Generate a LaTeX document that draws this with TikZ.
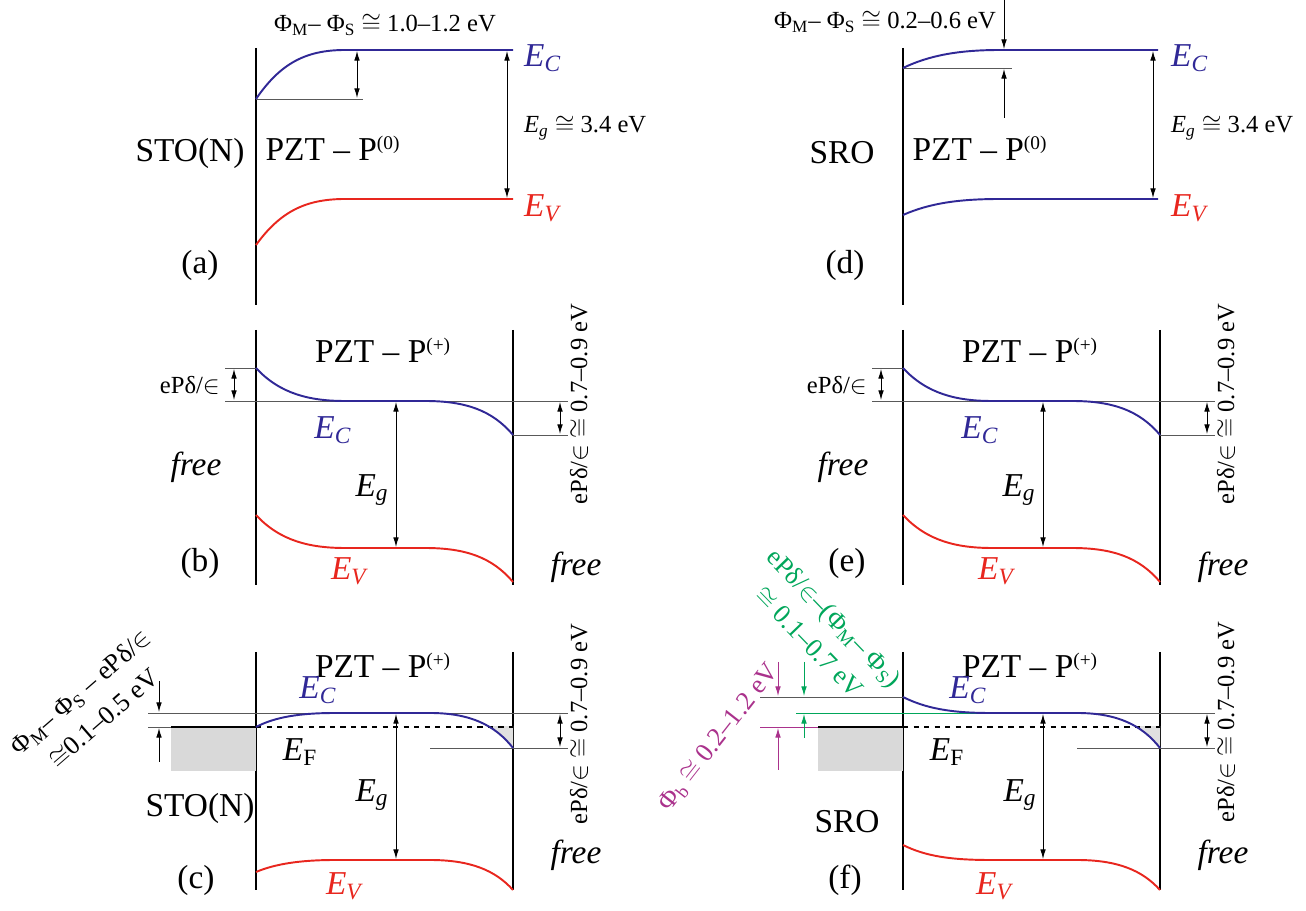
\documentclass[tikz,border=0pt]{standalone}
\usepackage{fontspec}
\setmainfont{Liberation Serif}
\usetikzlibrary{arrows.meta}
\definecolor{ecblue}{RGB}{48,40,150}
\definecolor{evred}{RGB}{232,38,30}
\definecolor{phigreen}{RGB}{0,166,90}
\definecolor{phimag}{RGB}{170,50,140}
\newcommand{\En}[1]{\textit{E}\textsubscript{\textit{#1}}}
\newcommand{\ePd}{ePδ/$\in$}
\newcommand{\Pol}[1]{PZT – P\textsuperscript{\fontsize{11}{11}\selectfont(#1)}}
\tikzset{
  axis/.style={line width=1.1pt},
  band/.style={line width=1.1pt},
  ref/.style={black!65, line width=0.5pt},
  dim/.style={<->, line width=0.5pt},
  big/.style={font=\fontsize{19}{22}\selectfont},
  small/.style={font=\fontsize{14}{16}\selectfont},
  mid/.style={font=\fontsize{15}{20}\selectfont},
}
\begin{document}
\begin{tikzpicture}[x=0.02cm, y=-0.02cm, >={Latex[length=5.5pt,width=3.2pt]}]
\useasboundingbox (0,0) rectangle (1306,911);

% (a) STO(N) contact, no polarisation
\draw[axis] (256,48) -- (256,305);
\draw[ref] (256,99) -- (363,99);
\draw[band, ecblue] (256,99) .. controls (280,64) and (305,50) .. (345,50) -- (513,50);
\draw[band, evred] (256,245) .. controls (280,212) and (305,199) .. (345,199) -- (513,199);
\draw[dim] (357,51) -- (357,98);
\draw[dim] (507,51) -- (507,198);
\node[small] (phiA) at (385,25) {Φ\textsubscript{M}– Φ\textsubscript{S} $\cong$ 1.0–1.2 eV};
\node[big, ecblue, anchor=west] (ecA) at (518,58) {\En{C}};
\node[big, evred, anchor=west] (evA) at (518,208) {\En{V}};
\node[small, anchor=west] (egA) at (518,128) {\En{g} $\cong$ 3.4 eV};
\node[big] (stoA) at (190,153) {STO(N)};
\node[big] (pztA) at (333,148) {\Pol{0}};
\node[big] (labA) at (200,265) {(a)};

% (d) SRO contact, no polarisation
\draw[axis] (903,48) -- (903,305);
\draw[ref] (903,68) -- (1012,68);
\draw[band, ecblue] (903,68) .. controls (930,55) and (960,50) .. (1000,50) -- (1158,50);
\draw[band, ecblue] (903,215) .. controls (930,203) and (960,199) .. (1000,199) -- (1158,199);
\draw[->, line width=0.5pt] (1004,0) -- (1004,49);
\draw[->, line width=0.5pt] (1004,118) -- (1004,69);
\draw[dim] (1153,51) -- (1153,198);
\node[small, anchor=east, inner sep=1pt] (phiD) at (998,22) {Φ\textsubscript{M}– Φ\textsubscript{S} $\cong$ 0.2–0.6 eV};
\node[big, ecblue, anchor=west] (ecD) at (1165,58) {\En{C}};
\node[big, evred, anchor=west] (evD) at (1165,208) {\En{V}};
\node[small, anchor=west] (egD) at (1165,128) {\En{g} $\cong$ 3.4 eV};
\node[big] (sroD) at (842,153) {SRO};
\node[big] (pztD) at (980,148) {\Pol{0}};
\node[big] (labD) at (845,265) {(d)};

% (b) and (e) free surfaces, P(+)
\foreach \dx/\lab in {0/b, 647/e} {
\begin{scope}[shift={(\dx,0)}]
\draw[axis] (256,330) -- (256,585);
\draw[axis] (513,330) -- (513,585);
\draw[ref] (225,368) -- (256,368);
\draw[ref] (225,401) -- (568,401);
\draw[ref] (513,435) -- (568,435);
\draw[band, ecblue] (256,368) .. controls (280,394) and (310,401) .. (345,401) -- (425,401) .. controls (465,401) and (492,410) .. (513,435);
\draw[band, evred] (256,515) .. controls (280,541) and (310,548) .. (345,548) -- (425,548) .. controls (465,548) and (492,557) .. (513,582);
\draw[dim] (234,369) -- (234,400);
\draw[dim] (560,402) -- (560,434);
\draw[dim] (396,402) -- (396,547);
\node[small, anchor=east] (ep\lab) at (226,385) {\ePd};
\node[small, rotate=90] (rt\lab) at (579,404) {\ePd{} $\cong$ 0.7–0.9 eV};
\node[big] (pz\lab) at (383,350) {\Pol{+}};
\node[big, ecblue] (ec\lab) at (333,430) {\En{C}};
\node[big] (eg\lab) at (372,490) {\En{g}};
\node[big, evred] (ev\lab) at (350,571) {\En{V}};
\node[big] (fl\lab) at (196,467) {\textit{free}};
\node[big] (fr\lab) at (576,567) {\textit{free}};
\node[big] (lb\lab) at (200,563) {(\lab)};
\end{scope}
}

% (c) STO(N) contact, P(+)
\draw[axis] (256,652) -- (256,890);
\draw[axis] (513,652) -- (513,890);
\begin{scope}
\clip (430,727) rectangle (513,760);
\fill[black!12] (430,713) .. controls (470,713) and (495,725) .. (513,748) -- (513,713) -- cycle;
\end{scope}
\fill[black!15] (171,727) rectangle (256,771);
\draw[ref] (148,713) -- (568,713);
\draw[ref] (148,727) -- (171,727);
\draw[ref] (430,748) -- (568,748);
\draw[line width=1.1pt] (171,727) -- (256,727);
\draw[line width=1.1pt, dashed] (256,727) -- (513,727);
\draw[band, ecblue] (256,727) .. controls (275,717) and (300,713) .. (335,713) -- (430,713) .. controls (470,713) and (495,725) .. (513,748);
\draw[band, evred] (256,872) .. controls (275,864) and (300,860) .. (335,860) -- (430,860) .. controls (470,860) and (495,870) .. (513,890);
\draw[->, line width=0.5pt] (159,681) -- (159,712);
\draw[->, line width=0.5pt] (159,762) -- (159,728);
\draw[dim] (560,714) -- (560,747);
\draw[dim] (396,714) -- (396,859);
\node[mid, rotate=41, align=center] (phiC) at (92,705) {Φ\textsubscript{M}– Φ\textsubscript{S} – \ePd\\$\cong$0.1–0.5 eV};
\node[small, rotate=90] (rtC) at (579,724) {\ePd{} $\cong$ 0.7–0.9 eV};
\node[big] (pztC) at (383,665) {\Pol{+}};
\node[big, ecblue] (ecC) at (318,690) {\En{C}};
\node[big] (efC) at (300,752) {\textit{E}\textsubscript{F}};
\node[big] (egC) at (372,795) {\En{g}};
\node[big, evred] (evC) at (345,886) {\En{V}};
\node[big] (stoC) at (200,808) {STO(N)};
\node[big] (frC) at (576,855) {\textit{free}};
\node[big] (labC) at (196,880) {(c)};

% (f) SRO contact, P(+)
\draw[axis] (903,652) -- (903,890);
\draw[axis] (1160,652) -- (1160,890);
\begin{scope}
\clip (1077,727) rectangle (1160,760);
\fill[black!12] (1077,713) .. controls (1117,713) and (1142,725) .. (1160,748) -- (1160,713) -- cycle;
\end{scope}
\fill[black!15] (818,727) rectangle (903,771);
\draw[ref] (760,697) -- (903,697);
\draw[phigreen, line width=0.5pt] (796,713) -- (990,713);
\draw[ref] (1077,713) -- (1215,713);
\draw[phimag, line width=0.5pt] (760,727) -- (818,727);
\draw[ref] (1077,748) -- (1215,748);
\draw[line width=1.1pt] (818,727) -- (903,727);
\draw[line width=1.1pt, dashed] (903,727) -- (1160,727);
\draw[band, ecblue] (903,697) .. controls (925,708) and (950,713) .. (990,713) -- (1077,713) .. controls (1117,713) and (1142,725) .. (1160,748);
\draw[band, evred] (903,845) .. controls (925,856) and (950,860) .. (990,860) -- (1077,860) .. controls (1117,860) and (1142,870) .. (1160,890);
\draw[->, phimag, line width=0.5pt] (778,662) -- (778,696);
\draw[->, phimag, line width=0.5pt] (778,770) -- (778,728);
\draw[->, phigreen, line width=0.5pt] (804,662) -- (804,696);
\draw[->, phigreen, line width=0.5pt] (804,738) -- (804,714);
\draw[dim] (1207,714) -- (1207,747);
\draw[dim] (1043,714) -- (1043,859);
\node[mid, phimag, rotate=52] (phiF) at (719,738) {Φ\textsubscript{b} $\cong$ 0.2–1.2 eV};
\node[mid, phigreen, rotate=-46, align=center] (gapF) at (822,630) {\ePd–(Φ\textsubscript{M}– Φ\textsubscript{S})\\$\cong$ 0.1–0.7 eV};
\node[small, rotate=90] (rtF) at (1226,722) {\ePd{} $\cong$ 0.7–0.9 eV};
\node[big] (pztF) at (1030,665) {\Pol{+}};
\node[big, ecblue] (ecF) at (968,690) {\En{C}};
\node[big] (efF) at (947,752) {\textit{E}\textsubscript{F}};
\node[big] (egF) at (1020,795) {\En{g}};
\node[big, evred] (evF) at (995,886) {\En{V}};
\node[big] (sroF) at (847,822) {SRO};
\node[big] (frF) at (1223,855) {\textit{free}};
\node[big] (labF) at (845,880) {(f)};
\end{tikzpicture}
\end{document}
